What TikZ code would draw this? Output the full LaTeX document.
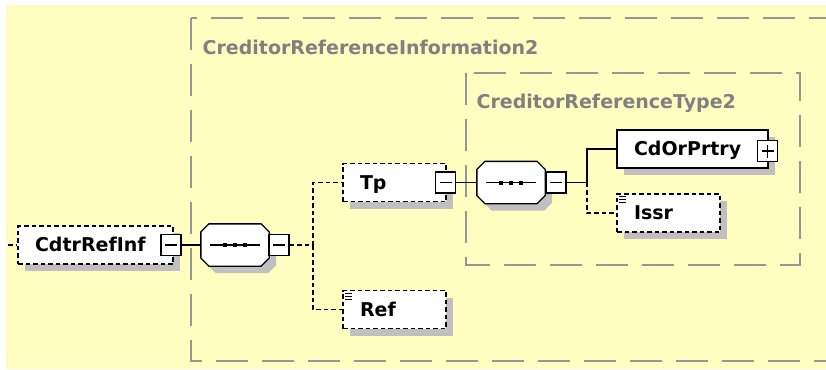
\documentclass[tikz,border=0pt]{standalone}
\usepackage{fontspec}
\setmainfont{DejaVu Sans}
\usepackage{tikz}
\usetikzlibrary{shadows}
\definecolor{bgyellow}{RGB}{255,253,192}
\definecolor{shadowgray}{RGB}{192,192,192}
\definecolor{boxgray}{RGB}{150,150,150}
\definecolor{labelgray}{RGB}{128,128,128}

% octagon round a named node
\newcommand{\octpath}[1]{([xshift=8pt]#1.north west) -- ([xshift=-8pt]#1.north east)
  -- ([yshift=-8pt]#1.north east) -- ([yshift=8pt]#1.south east)
  -- ([xshift=-8pt]#1.south east) -- ([xshift=8pt]#1.south west)
  -- ([yshift=8pt]#1.south west) -- ([yshift=-8pt]#1.north west) -- cycle}
\newcommand{\seqcomp}[2]{%
  \node[seqnode] (#1) at (#2) {};
  \fill[shadowgray, transform canvas={shift={(7pt,-7pt)}}] \octpath{#1};
  \filldraw[fill=white] \octpath{#1};
  \draw ([xshift=-25pt]#1.center) -- ([xshift=25pt]#1.center);
  \foreach \dx in {-10,0,10}
    \fill ([xshift=\dx pt]#1.center) +(-2,-2) rectangle +(2,2);
}

\begin{document}
\begin{tikzpicture}[x=1pt,y=-1pt,line width=1.3pt,
  elem/.style={draw, fill=white, rectangle, minimum height=38pt, inner xsep=17pt, inner ysep=0pt,
    text width=#1, align=left, font=\fontsize{19}{22}\selectfont\bfseries,
    text height=13.8pt, text depth=0pt,
    drop shadow={shadow xshift=7pt, shadow yshift=-7pt, fill=shadowgray, opacity=1}},
  optelem/.style={elem=#1, dash pattern=on 4.5pt off 3pt},
  seqnode/.style={rectangle, minimum width=67pt, minimum height=41pt, inner sep=0pt},
  minusbox/.style={draw, fill=white, minimum width=20pt, minimum height=21pt, inner sep=0pt,
    path picture={\draw ([xshift=4pt]path picture bounding box.west) -- ([xshift=-4pt]path picture bounding box.east);}},
  plusbox/.style={draw, fill=white, minimum width=20pt, minimum height=21pt, inner sep=0pt,
    path picture={\draw ([xshift=4pt]path picture bounding box.west) -- ([xshift=-4pt]path picture bounding box.east);
      \draw ([yshift=4pt]path picture bounding box.south) -- ([yshift=-4pt]path picture bounding box.north);}},
  dashline/.style={dash pattern=on 4.5pt off 3pt},
  container/.style={draw=boxgray, line width=1.3pt, dash pattern=on 32pt off 14pt},
  grouplabel/.style={anchor=west, inner sep=0pt, text=labelgray, font=\fontsize{19}{22}\selectfont\bfseries}
]
\useasboundingbox (0,0) rectangle (826,369);
\fill[white] (0,0) rectangle (826,369);
\fill[bgyellow] (6,5) rectangle (826,369);

% types
\draw[container] (191,18) rectangle (840,361);
\draw[container] (466,73) rectangle (800,265);
\node[grouplabel] (infolbl) at (202,47) {CreditorReferenceInformation2};
\node[grouplabel] (typelbl) at (476,103) {CreditorReferenceType2};

\node[optelem=121pt] (cdtr) at (95.5,245) {CdtrRefInf};
\node[minusbox] (cdtrm) at (171,245) {};
\seqcomp{seqa}{235,245}
\node[minusbox] (seqam) at (279,245) {};

\node[optelem=69pt] (tp) at (394.5,182.5) {Tp};
\node[minusbox] (tpm) at (445.5,182.5) {};
\node[optelem=69pt] (ref) at (394.5,309.5) {Ref};

\seqcomp{seqb}{511,182.5}
\node[minusbox] (seqbm) at (556,182.5) {};

\node[elem=117pt] (cd) at (692.5,149) {CdOrPrtry};
\node[plusbox] (cdp) at (767.5,151) {};
\node[optelem=69pt] (issr) at (668.5,213) {Issr};

\foreach \n in {ref,issr}
  \foreach \k in {0,3,6}
    \draw[line width=0.9pt] ([shift={(3,3.5+\k)}]\n.north west) -- ++(7,0);

\coordinate (stub) at (8,245);
\coordinate (bra) at (313,245);
\coordinate (brb) at (587,182.5);

\draw[dashline] (stub) -- (cdtr.west);
\draw (cdtrm.east) -- (seqa.west);
\draw[dashline] (seqam.east) -- (bra);
\draw[dashline] (bra) |- (tp.west);
\draw[dashline] (bra) |- (ref.west);
\draw (tpm.east) -- (seqb.west);
\draw (seqbm.east) -- (brb);
\draw (brb) |- (cd.west);
\draw[dashline] (brb) |- (issr.west);
%\draw[dashline] (issr.east) -- ++(10,0);
\end{tikzpicture}
\end{document}
